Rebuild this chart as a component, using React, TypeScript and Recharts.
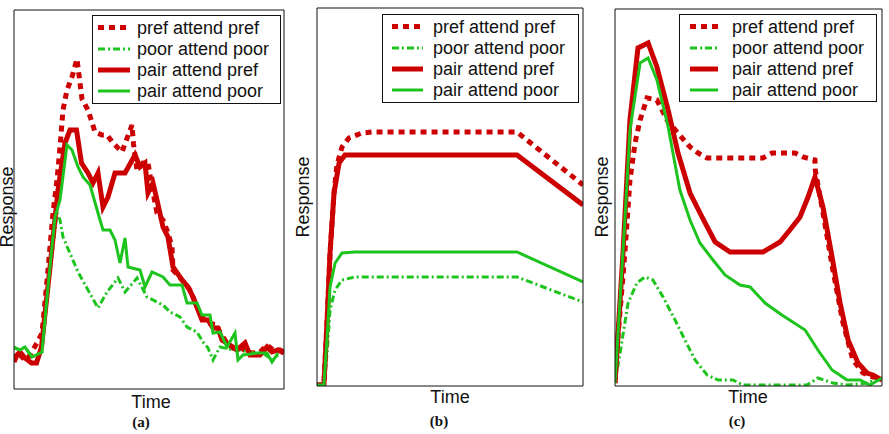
import React from 'react';
import { LineChart, Line, XAxis, YAxis, Legend, Label } from 'recharts';

const RED = '#cc0000';
const GREEN = '#1ec41e';
const SANS = '"Liberation Sans", Arial, Helvetica, sans-serif';
const SERIF = '"Liberation Serif", "Times New Roman", serif';

// series names (legend order = drawing order)
const seriesNames = ['pref attend pref', 'poor attend poor', 'pair attend pref', 'pair attend poor'];

// ---------- Panel (a) ----------
const aPrefT = [0, 0.8, 1.8, 2.8, 4.6, 5.6, 6.8, 7.8, 8.6, 9.2, 9.8, 10.6, 11.6, 12.6, 13.6, 14.8, 16.2, 17.6, 18.6, 19.8, 21.6, 23.6, 23.9, 24.6, 25.8, 26.8, 27.6, 28.6, 29.8, 30.8, 31.6, 31.8, 33.6, 35.2, 36.6, 37.6, 38.8, 40.6, 41.2, 42.6, 43.8, 45.2, 46.6, 47.8, 49.2, 50.6, 51.8, 53.2, 54];
const aPrefV = [27, 36, 31, 31, 46, 56, 119, 176, 209, 242, 279, 299, 312, 330, 290, 279, 257, 254, 254, 246, 237, 264, 245, 219, 226, 226, 202, 176, 169, 156, 142, 119, 109, 99, 82, 72, 66, 64, 56, 46, 41, 42, 37, 36, 37, 44, 39, 39, 37];

const aPoorT = [0, 1.2, 2.2, 3.6, 5.6, 6.8, 8.6, 9.2, 9.8, 11.6, 12.8, 14.8, 16.8, 18.6, 20.8, 22.2, 24.6, 26.6, 29.8, 31.2, 33.2, 34.6, 36.6, 37.8, 38.8, 39.8, 41.2, 43.8, 45.2, 47.8, 49.8, 51.6, 52.8];
const aPoorV = [41, 39, 42, 32, 37, 99, 176, 169, 152, 131, 117, 99, 81, 97, 111, 97, 111, 92, 84, 77, 72, 62, 57, 47, 41, 29, 42, 39, 39, 36, 36, 29, 34];

const aPairPrefT = [0, 1.2, 2.2, 3.5, 4.5, 5.5, 7.2, 8.8, 10.2, 11.2, 12.5, 13.5, 14.8, 15.8, 16.8, 17.8, 18.8, 20.2, 22.2, 24.2, 25.2, 26.2, 26.8, 27.8, 28.6, 29.8, 30.8, 31.8, 33.6, 34.8, 35.8, 37.6, 38.8, 39.8, 40.8, 41.6, 43.2, 44.6, 46.2, 47.2, 49.2, 50.6, 51.6, 52.8, 54];
const aPairPrefV = [31, 37, 31, 26, 26, 42, 122, 199, 246, 259, 259, 226, 216, 206, 216, 182, 192, 216, 216, 234, 222, 226, 196, 206, 189, 162, 152, 122, 109, 102, 92, 69, 69, 61, 61, 49, 44, 39, 46, 34, 34, 42, 37, 39, 36];

const aPairPoorT = [0, 1.2, 2.2, 3.6, 5.6, 6.8, 8.2, 9.2, 10.6, 11.6, 12.8, 13.8, 15.2, 16.8, 17.8, 19.2, 20.2, 21.2, 22.2, 22.8, 25.2, 26.2, 27.6, 29.8, 31.2, 33.6, 34.6, 36.6, 37.6, 39.2, 39.8, 41.2, 42.6, 44.2, 44.8, 45.8, 48.6, 50.6, 51.6, 52.8];
const aPairPoorV = [42, 39, 42, 32, 37, 102, 172, 189, 244, 239, 222, 212, 204, 176, 159, 159, 149, 126, 151, 122, 119, 102, 117, 112, 104, 104, 86, 86, 74, 74, 56, 57, 42, 56, 29, 34, 36, 36, 27, 36];

// ---------- Panel (b) ----------
const bPrefT = [0, 2.6, 3.8, 4.9, 6.4, 7.5, 9.4, 12, 16.9, 20.7, 75.2, 100];
const bPrefV = [1, 1, 66, 133, 193, 221, 239, 248, 253, 254, 254, 201];

const bPoorT = [0, 2.6, 3.8, 4.9, 6.8, 9.4, 14.3, 75.2, 100];
const bPoorV = [1, 1, 33, 76, 96, 106, 109, 109, 84];

const bPairPrefT = [0, 2.6, 3.8, 4.9, 6.4, 8.3, 10.5, 16.9, 75.2, 100];
const bPairPrefV = [1, 1, 66, 133, 193, 223, 231, 231, 231, 181];

const bPairPoorT = [0, 2.6, 3.8, 4.9, 6.8, 9.4, 14.3, 75.2, 100];
const bPairPoorV = [1, 1, 49, 99, 123, 133, 134, 134, 104];

// ---------- Panel (c) ----------
const cPrefT = [0, 1.1, 3.7, 5.6, 7.5, 9.4, 12, 15.7, 19.5, 23.2, 28.1, 31.1, 34.5, 55.4, 58.8, 67.4, 70.4, 74.9, 75, 77.9, 81.6, 85.4, 89.1, 92.9, 96.6, 100];
const cPrefV = [3, 49, 133, 206, 243, 266, 288, 286, 266, 254, 239, 233, 228, 228, 233, 233, 229, 226, 216, 173, 116, 63, 26, 13, 9, 8];

const cPoorT = [0, 1.9, 4.9, 8.2, 11.2, 14.2, 18, 22.5, 26.2, 30, 34.5, 38.6, 44.2, 47.9, 71.9, 76, 81.6, 86.9, 94.4, 100];
const cPoorV = [3, 33, 83, 103, 109, 106, 89, 66, 46, 26, 11, 6, 6, 1, 1, 8, 3, 1, 3, 8];

const cPairPrefT = [0, 3, 5.6, 8.6, 12.4, 15.7, 19.9, 23.6, 28.1, 32.6, 37.5, 43.1, 55.4, 61.8, 65.5, 69.3, 72.3, 74.9, 77.9, 81.3, 84.3, 87.3, 91, 94.4, 96.6, 100];
const cPairPrefV = [3, 133, 266, 338, 343, 319, 276, 233, 193, 169, 144, 134, 134, 144, 156, 169, 189, 209, 179, 129, 83, 46, 23, 13, 11, 6];

const cPairPoorT = [0, 3.7, 5.6, 9.4, 12.4, 15.7, 19.9, 24.3, 28.1, 31.8, 36.7, 41.2, 46.8, 50.6, 56.2, 62.5, 71.2, 76, 81.3, 86.9, 91.8, 95.5, 100];
const cPairPoorV = [3, 166, 256, 323, 328, 306, 259, 196, 166, 143, 126, 111, 101, 99, 83, 71, 56, 36, 16, 6, 6, 1, 8];

// ---------- styles ----------
const seriesStyles = [
  { color: RED, width: 5, dash: '6 5' },
  { color: GREEN, width: 3, dash: '7 3 2 3' },
  { color: RED, width: 5, dash: undefined as string | undefined },
  { color: GREEN, width: 3, dash: undefined as string | undefined },
];

const toPts = (t: number[], v: number[]) => t.map((x, i) => ({ t: x, v: v[i] }));

type LegendCfg = { x: number; y: number; w: number; h: number; s1: number; s2: number; tx: number };
type PanelCfg = {
  left: number;
  width: number;
  margin: { top: number; right: number; bottom: number; left: number };
  xMax: number;
  yMax: number;
  series: { t: number[]; v: number[] }[];
  legend: LegendCfg;
  timeX: number;
  timeY: number;
  cap: string;
  capX: number;
  capY: number;
  respX: number;
  respY: number;
};

const legendRows = [12.5, 34, 55, 76];

const LegendBox = ({ lg }: { lg: LegendCfg }) => (
  <svg width={lg.w} height={lg.h} style={{ display: 'block' }}>
    <rect x={0.5} y={0.5} width={lg.w - 1} height={lg.h - 1} fill="#fff" stroke="#111" strokeWidth={1} />
    {seriesNames.map((n, i) => {
      const y = legendRows[i];
      const st = seriesStyles[i];
      return (
        <g key={n}>
          <line x1={lg.s1} x2={lg.s2} y1={y} y2={y} stroke={st.color} strokeWidth={st.width} strokeDasharray={st.dash} />
          <text x={lg.tx} y={y + 6} fontFamily={SANS} fontSize={18} fill="#111">
            {n}
          </text>
        </g>
      );
    })}
  </svg>
);

// margins are the plot-box edges minus the 1px axis bands
const panels: PanelCfg[] = [
  {
    left: 0,
    width: 290,
    margin: { top: 9, right: 5, bottom: 44, left: 13 },
    xMax: 54,
    yMax: 379,
    series: [
      { t: aPrefT, v: aPrefV },
      { t: aPoorT, v: aPoorV },
      { t: aPairPrefT, v: aPairPrefV },
      { t: aPairPoorT, v: aPairPoorV },
    ],
    legend: { x: 92, y: 15, w: 189, h: 89, s1: 6, s2: 38, tx: 45 },
    timeX: 151,
    timeY: 408,
    cap: '(a)',
    capX: 141,
    capY: 427,
    respX: 13,
    respY: 207,
  },
  {
    left: 290,
    width: 300,
    margin: { top: 7, right: 6, bottom: 47, left: 26 },
    xMax: 100,
    yMax: 378,
    series: [
      { t: bPrefT, v: bPrefV },
      { t: bPoorT, v: bPoorV },
      { t: bPairPrefT, v: bPairPrefV },
      { t: bPairPoorT, v: bPairPoorV },
    ],
    legend: { x: 382 - 290, y: 14, w: 197, h: 89, s1: 10, s2: 41, tx: 51 },
    timeX: 160,
    timeY: 403,
    cap: '(b)',
    capX: 149,
    capY: 426,
    respX: 19,
    respY: 197,
  },
  {
    left: 585,
    width: 304,
    margin: { top: 8, right: 6, bottom: 47, left: 29 },
    xMax: 100,
    yMax: 377,
    series: [
      { t: cPrefT, v: cPrefV },
      { t: cPoorT, v: cPoorV },
      { t: cPairPrefT, v: cPairPrefV },
      { t: cPairPoorT, v: cPairPoorV },
    ],
    legend: { x: 679 - 585, y: 14, w: 198, h: 88, s1: 11, s2: 39, tx: 53 },
    timeX: 163,
    timeY: 403,
    cap: '(c)',
    capX: 152,
    capY: 426,
    respX: 23,
    respY: 197,
  },
];

const FRAME = { stroke: '#111', strokeWidth: 1 };

const PanelChart = ({ p }: { p: PanelCfg }) => {
  const data = p.series.map((s) => toPts(s.t, s.v));
  return (
    <div style={{ position: 'absolute', left: p.left, top: 0, width: p.width, height: 434 }}>
      <LineChart width={p.width} height={434} margin={p.margin}>
        <XAxis
          xAxisId="b"
          dataKey="t"
          type="number"
          domain={[0, p.xMax]}
          allowDataOverflow
          tick={false}
          tickLine={false}
          height={1}
          axisLine={FRAME}
        >
          <Label
            content={() => (
              <text x={p.timeX} y={p.timeY} textAnchor="middle" fontFamily={SANS} fontSize={18} fill="#111">
                Time
              </text>
            )}
          />
          <Label
            content={() => (
              <text x={p.capX} y={p.capY} textAnchor="middle" fontFamily={SERIF} fontWeight="bold" fontSize={15} fill="#111">
                {p.cap}
              </text>
            )}
          />
        </XAxis>
        <XAxis
          xAxisId="top"
          orientation="top"
          type="number"
          domain={[0, p.xMax]}
          allowDataOverflow
          tick={false}
          tickLine={false}
          height={1}
          axisLine={FRAME}
        />
        <YAxis
          yAxisId="l"
          type="number"
          domain={[0, p.yMax]}
          allowDataOverflow
          tick={false}
          tickLine={false}
          width={1}
          axisLine={FRAME}
        >
          <Label
            content={() => (
              <text
                x={p.respX}
                y={p.respY}
                textAnchor="middle"
                transform={`rotate(-90 ${p.respX} ${p.respY})`}
                fontFamily={SANS}
                fontSize={18}
                fill="#111"
              >
                Response
              </text>
            )}
          />
        </YAxis>
        <YAxis
          yAxisId="r"
          orientation="right"
          type="number"
          domain={[0, p.yMax]}
          allowDataOverflow
          tick={false}
          tickLine={false}
          width={1}
          axisLine={FRAME}
        />
        {data.map((d, i) => (
          <Line
            key={seriesNames[i]}
            name={seriesNames[i]}
            xAxisId="b"
            yAxisId="l"
            data={d}
            dataKey="v"
            type="linear"
            stroke={seriesStyles[i].color}
            strokeWidth={seriesStyles[i].width}
            strokeDasharray={seriesStyles[i].dash}
            dot={false}
            activeDot={false}
            isAnimationActive={false}
          />
        ))}
        <Legend
          layout="vertical"
          align="center"
          verticalAlign="middle"
          wrapperStyle={{ left: p.legend.x, top: p.legend.y, width: p.legend.w, height: p.legend.h }}
          content={() => <LegendBox lg={p.legend} />}
        />
      </LineChart>
    </div>
  );
}

export default function App() {
  return (
    <div style={{ position: 'absolute', left: 0, top: 0, width: 889, height: 434, background: '#fff' }}>
      {panels.map((p) => (
        <PanelChart key={p.cap} p={p} />
      ))}
    </div>
  );
}
